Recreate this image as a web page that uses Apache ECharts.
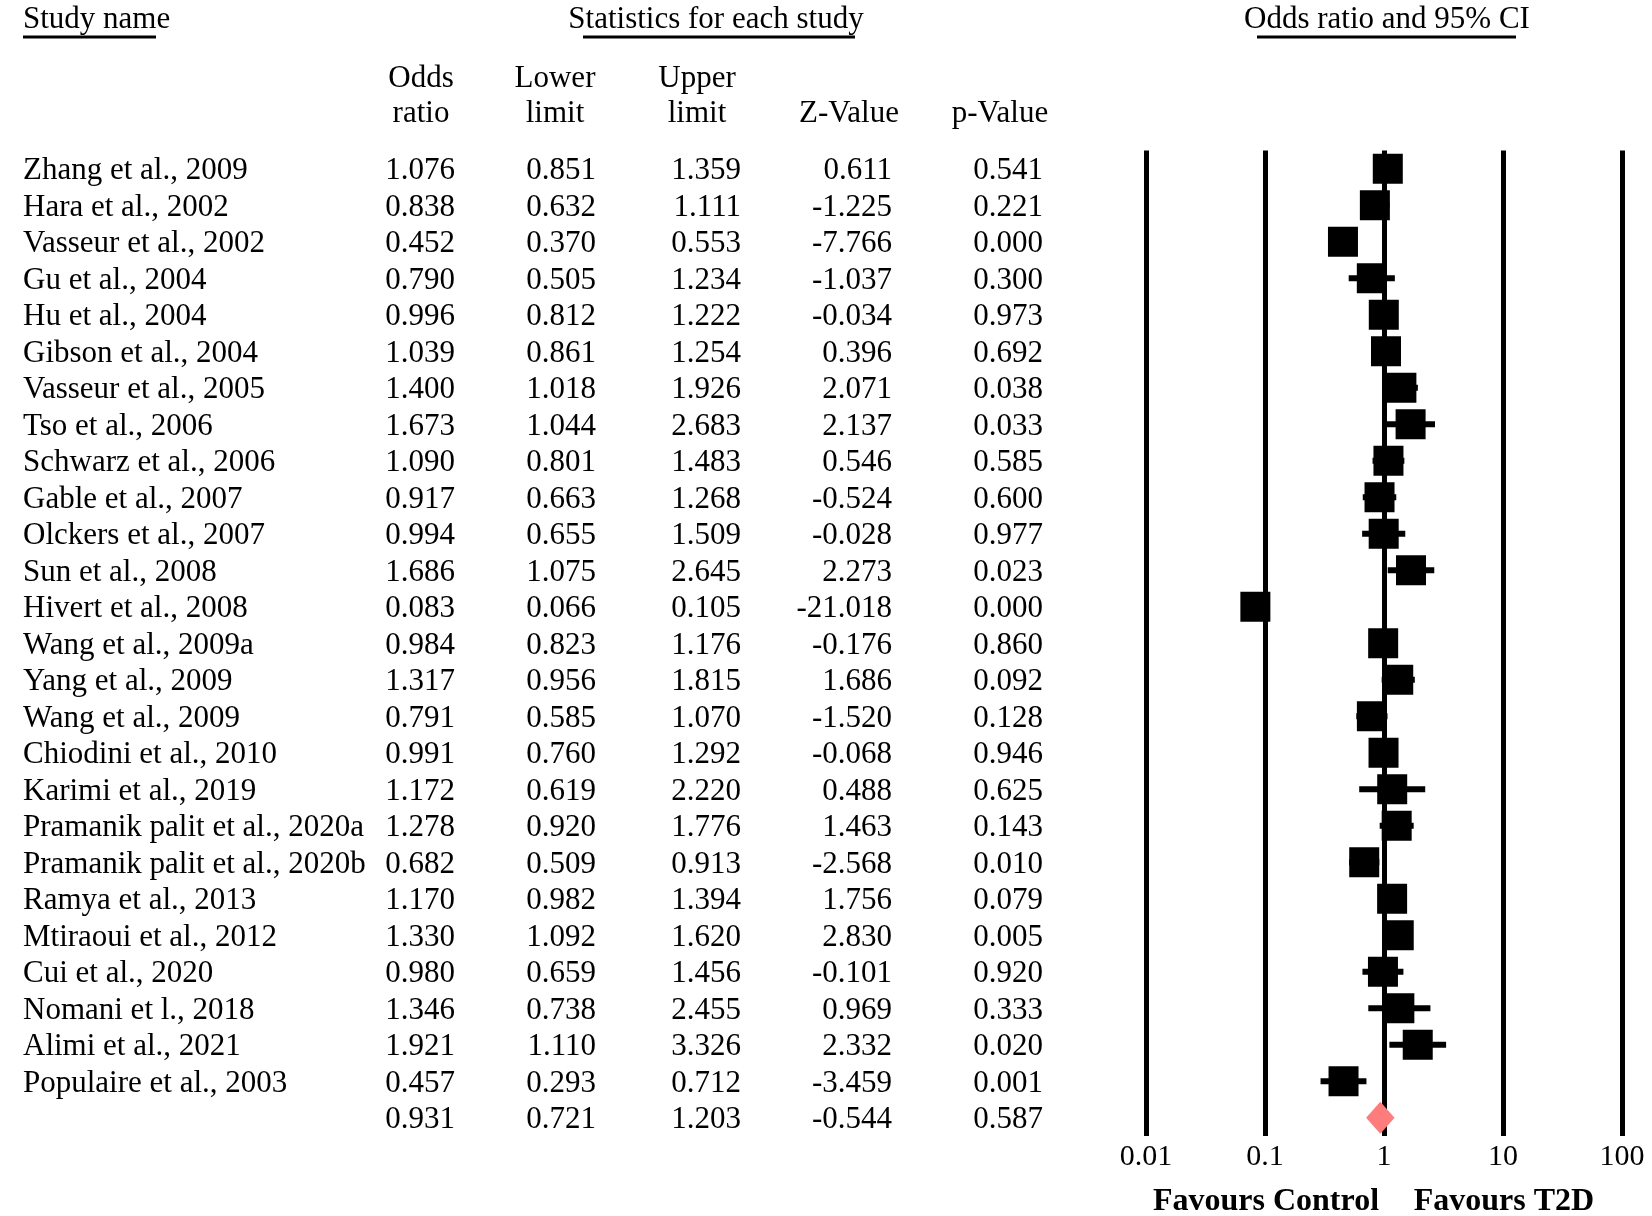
<!DOCTYPE html>
<html>
<head>
<meta charset="utf-8">
<script src="https://cdn.jsdelivr.net/npm/echarts@6/dist/echarts.min.js"></script>
<style>
html,body{margin:0;padding:0;background:#fff;}
#chart{width:1652px;height:1216px;}
</style>
</head>
<body>
<div id="chart"></div>
<script>
const studies = ['Zhang et al., 2009','Hara et al., 2002','Vasseur et al., 2002','Gu et al., 2004','Hu et al., 2004','Gibson et al., 2004','Vasseur et al., 2005','Tso et al., 2006','Schwarz et al., 2006','Gable et al., 2007','Olckers et al., 2007','Sun et al., 2008','Hivert et al., 2008','Wang et al., 2009a','Yang et al., 2009','Wang et al., 2009','Chiodini et al., 2010','Karimi et al., 2019','Pramanik palit et al., 2020a','Pramanik palit et al., 2020b','Ramya et al., 2013','Mtiraoui et al., 2012','Cui et al., 2020','Nomani et l., 2018','Alimi et al., 2021','Populaire et al., 2003'];
const oddsRatio = [1.076,0.838,0.452,0.790,0.996,1.039,1.400,1.673,1.090,0.917,0.994,1.686,0.083,0.984,1.317,0.791,0.991,1.172,1.278,0.682,1.170,1.330,0.980,1.346,1.921,0.457];
const lowerLimit = [0.851,0.632,0.370,0.505,0.812,0.861,1.018,1.044,0.801,0.663,0.655,1.075,0.066,0.823,0.956,0.585,0.760,0.619,0.920,0.509,0.982,1.092,0.659,0.738,1.110,0.293];
const upperLimit = [1.359,1.111,0.553,1.234,1.222,1.254,1.926,2.683,1.483,1.268,1.509,2.645,0.105,1.176,1.815,1.070,1.292,2.220,1.776,0.913,1.394,1.620,1.456,2.455,3.326,0.712];
const zValue = [0.611,-1.225,-7.766,-1.037,-0.034,0.396,2.071,2.137,0.546,-0.524,-0.028,2.273,-21.018,-0.176,1.686,-1.520,-0.068,0.488,1.463,-2.568,1.756,2.830,-0.101,0.969,2.332,-3.459];
const pValue = [0.541,0.221,0.000,0.300,0.973,0.692,0.038,0.033,0.585,0.600,0.977,0.023,0.000,0.860,0.092,0.128,0.946,0.625,0.143,0.010,0.079,0.005,0.920,0.333,0.020,0.001];
const summaryStats = [0.931,0.721,1.203,-0.544,0.587]; // OR, lower, upper, Z, p
const tickValues = [0.01,0.1,1,10,100];
const tickLabels = ['0.01','0.1','1','10','100'];
const headerTop = ['Study name','Statistics for each study','Odds ratio and 95% CI'];
const colHeaders1 = ['Odds','Lower','Upper','',''];
const colHeaders2 = ['ratio','limit','limit','Z-Value','p-Value'];
const favourLabels = ['Favours Control','Favours T2D'];

const FONT = "'Liberation Serif','Times New Roman',serif";
const FS = 31;
const nRows = studies.length + 1;
const colRight = [455, 596, 741, 892, 1043];
const colCenter = [421, 555, 697, 849, 1000];
const TEXT_DY = 2.5;

// table rows built from arrays
const tableRows = studies.map((s, i) => [s, oddsRatio[i], lowerLimit[i], upperLimit[i], zValue[i], pValue[i]]);
tableRows.push(['', summaryStats[0], summaryStats[1], summaryStats[2], summaryStats[3], summaryStats[4]]);

const chart = echarts.init(document.getElementById('chart'), null, {renderer:'canvas'});

const txt = (x, y, text, align) => ({
  type:'text', x:x, y:y,
  style:{text:text, fill:'#000', font: FS + 'px ' + FONT, textAlign:align, textVerticalAlign:'middle'}
});

const graphics = [
  txt(23, 20, headerTop[0], 'left'),
  txt(716, 20, headerTop[1], 'center'),
  txt(1387, 20, headerTop[2], 'center'),
  {type:'line', shape:{x1:23,y1:37,x2:156,y2:37}, style:{stroke:'#000', lineWidth:3}},
  {type:'line', shape:{x1:583,y1:37,x2:855,y2:37}, style:{stroke:'#000', lineWidth:3}},
  {type:'line', shape:{x1:1257,y1:37,x2:1516,y2:37}, style:{stroke:'#000', lineWidth:3}},
];
colHeaders1.forEach((h, k) => { if (h) graphics.push(txt(colCenter[k], 78.5, h, 'center')); });
colHeaders2.forEach((h, k) => { if (h) graphics.push(txt(colCenter[k], 113.5, h, 'center')); });
graphics.push({type:'text', x:1266, y:1202, style:{text:favourLabels[0], fill:'#000', font:'bold 32px ' + FONT, textAlign:'center', textVerticalAlign:'middle'}});
graphics.push({type:'text', x:1504, y:1202, style:{text:favourLabels[1], fill:'#000', font:'bold 32px ' + FONT, textAlign:'center', textVerticalAlign:'middle'}});

const option = {
  animation:false,
  backgroundColor:'#fff',
  grid:{left:1146, right:30, top:150.5, height:985.5, containLabel:false},
  xAxis:{
    type:'log', logBase:10, min:0.01, max:100,
    axisLine:{show:false}, axisTick:{show:false},
    splitLine:{show:true, showMinLine:true, showMaxLine:true, lineStyle:{color:'#000', width:5}},
    axisLabel:{
      margin:6, color:'#000', fontSize:30, fontFamily:FONT,
      showMinLabel:true, showMaxLabel:true,
      formatter:function(v){
        const e = Math.round(Math.log10(v));
        const k = tickValues.findIndex(t => Math.round(Math.log10(t)) === e);
        return k >= 0 ? tickLabels[k] : '';
      }
    }
  },
  yAxis:{type:'value', inverse:true, min:-0.5, max:nRows - 0.5, show:false, splitLine:{show:false}},
  graphic: graphics,
  series:[
    {
      type:'custom', name:'table', silent:true, z:5,
      data: tableRows.map((r, i) => [1, i]),
      renderItem:function(params, api){
        const i = params.dataIndex;
        const y = api.coord([1, i])[1] + TEXT_DY;
        const r = tableRows[i];
        const children = [{type:'text', style:{x:23, y:y, text:r[0], fill:'#000', font:FS+'px '+FONT, textAlign:'left', textVerticalAlign:'middle'}}];
        for (let k = 0; k < 5; k++) {
          children.push({type:'text', style:{x:colRight[k], y:y, text:r[k+1].toFixed(3), fill:'#000', font:FS+'px '+FONT, textAlign:'right', textVerticalAlign:'middle'}});
        }
        return {type:'group', children:children};
      }
    },
    {
      type:'custom', name:'ci', silent:true, z:6,
      data: studies.map((s, i) => [lowerLimit[i], upperLimit[i], i]),
      renderItem:function(params, api){
        const p1 = api.coord([api.value(0), api.value(2)]);
        const p2 = api.coord([api.value(1), api.value(2)]);
        return {type:'line', shape:{x1:p1[0], y1:p1[1], x2:p2[0], y2:p2[1]}, style:{stroke:'#000', lineWidth:6}};
      }
    },
    {
      type:'scatter', name:'or', silent:true, z:7,
      symbol:'rect', symbolSize:30,
      itemStyle:{color:'#000', opacity:1},
      data: studies.map((s, i) => [oddsRatio[i], i])
    },
    {
      type:'custom', name:'summary', silent:true, z:8,
      data: [[summaryStats[0], summaryStats[1], summaryStats[2], studies.length]],
      renderItem:function(params, api){
        const row = api.value(3);
        const c = api.coord([api.value(0), row]);
        const l = api.coord([api.value(1), row]);
        const h = api.coord([api.value(2), row]);
        return {type:'polygon', shape:{points:[[l[0]-1, c[1]], [c[0], c[1]-16], [h[0]+1, c[1]], [c[0], c[1]+16]]}, style:{fill:'#FF7C7C'}};
      }
    }
  ]
};
chart.setOption(option);
</script>
</body>
</html>
